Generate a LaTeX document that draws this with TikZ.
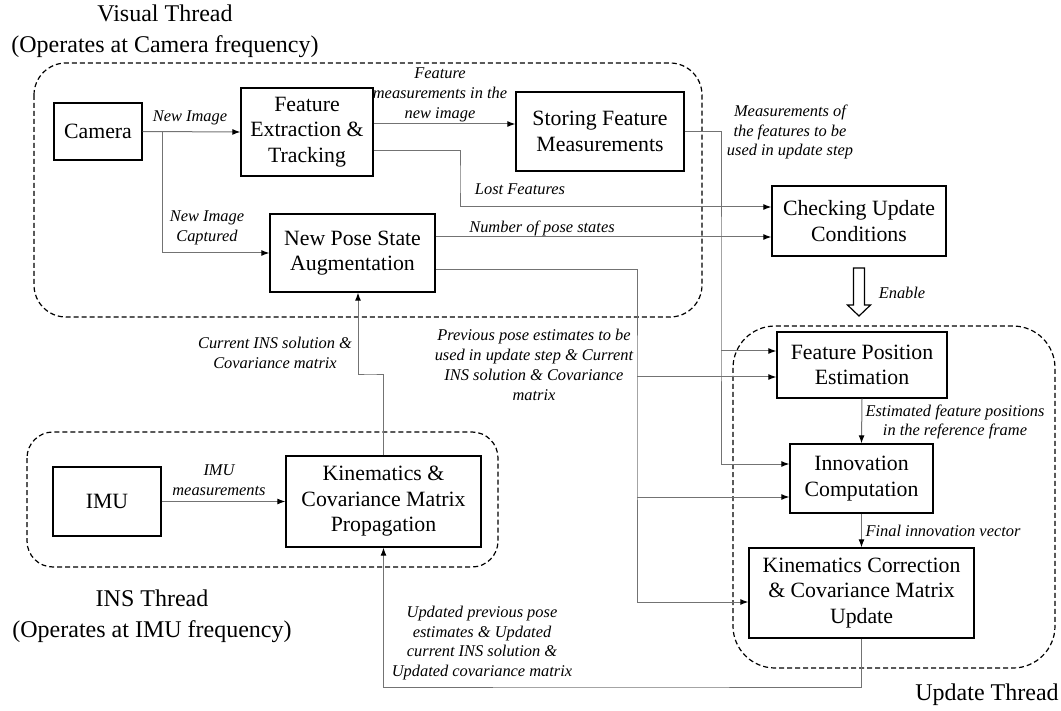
\documentclass[tikz,border=0pt]{standalone}
\usepackage{fontspec}
\setmainfont{Liberation Serif}
\usetikzlibrary{arrows.meta,calc}
\begin{document}
\begin{tikzpicture}[x=1pt,y=-1pt,
 box/.style={draw=black,line width=1.4pt,align=center,inner sep=0pt,font=\fontsize{21.8}{25.5}\selectfont},
 lbl/.style={align=center,inner sep=0pt,font=\fontsize{16.4}{19.8}\selectfont\itshape},
 conn/.style={draw=black!55,line width=1pt,-{Latex[length=8pt,width=6pt,color=black]}},
 wire/.style={draw=black!55,line width=1pt},
 region/.style={draw=black,line width=1.2pt,dash pattern=on 5pt off 3pt},
 titletext/.style={align=center,inner sep=0pt,font=\fontsize{24}{31}\selectfont}]
\useasboundingbox (0,0) rectangle (1061,711);

% thread regions
\draw[region,rounded corners=32pt] (34,63) rectangle (702,317);
\draw[region,rounded corners=26pt] (27,432) rectangle (498,567);
\draw[region,rounded corners=42pt] (733,326) rectangle (1055,668);

% titles
\node[titletext] (vt) at (165,31) {Visual Thread\\(Operates at Camera frequency)};
\node[titletext] (it) at (152,616) {INS Thread\\(Operates at IMU frequency)};
\node[titletext] (ut) at (987,695) {Update Thread};

% boxes
\node[box,minimum width=88pt,minimum height=57pt] (camera) at (98,131.5) {Camera};
\node[box,minimum width=132pt,minimum height=88pt] (featext) at (307,132) {Feature\\Extraction \&\\Tracking};
\node[box,minimum width=168pt,minimum height=79pt] (storing) at (600,131.5) {Storing Feature\\Measurements};
\node[box,minimum width=165pt,minimum height=78pt] (newpose) at (352.5,253) {New Pose State\\Augmentation};
\node[box,minimum width=174pt,minimum height=70pt] (checking) at (859,221) {Checking Update\\Conditions};
\node[box,minimum width=108pt,minimum height=69pt] (imu) at (107,501.5) {IMU};
\node[box,minimum width=195pt,minimum height=91pt] (kinprop) at (383.5,501.5) {Kinematics \&\\Covariance Matrix\\Propagation};
\node[box,minimum width=170pt,minimum height=66pt] (featpos) at (862,365) {Feature Position\\Estimation};
\node[box,minimum width=143pt,minimum height=69pt] (innov) at (861.5,478.5) {Innovation\\Computation};
\node[box,minimum width=225pt,minimum height=90pt] (kincorr) at (861.5,593) {Kinematics Correction\\\& Covariance Matrix\\Update};

% helper coordinates
\coordinate (j1) at (162,132);
\coordinate (lostx) at (460,180);
\coordinate (bus637) at (637,400);
\coordinate (bus721) at (721,300);
\coordinate (jog) at (370,375);
\coordinate (fb) at (600,687);
\coordinate (fpu) at ([yshift=14pt]featpos.west);
\coordinate (fpl) at ([yshift=-12pt]featpos.west);
\coordinate (inu) at ([yshift=14.5pt]innov.west);
\coordinate (inl) at ([yshift=-18.5pt]innov.west);

% connectors
\draw[conn] (camera.east) -- (featext.west);
\draw[conn] (j1) |- (newpose.west);
\draw[conn] ([yshift=8pt]featext.east) -- ([yshift=7.5pt]storing.west);
\draw[conn] ([yshift=-19pt]featext.east) -| (lostx) |- ([yshift=14pt]checking.west);
\draw[conn] ([yshift=16pt]newpose.east) -- ([yshift=-16pt]checking.west);
\draw[conn] ([yshift=-17pt]newpose.east) -| (bus637) |- ([yshift=-9pt]kincorr.west);
\draw[conn] (bus637 |- fpl) -- (fpl);
\draw[conn] (bus637 |- inl) -- (inl);
\draw[conn] ([yshift=-0.5pt]storing.east) -| (bus721) |- (inu);
\draw[conn] (bus721 |- fpu) -- (fpu);
\draw[conn] (kinprop.north) |- (jog) -| ([xshift=5.5pt]newpose.south);
\draw[conn] (imu.east) -- (kinprop.west);
\draw[conn] (featpos.south) -- (innov.north);
\draw[conn] (innov.south) -- (kincorr.north);
\draw[conn] (kincorr.south) |- (fb) -| (kinprop.south);

% enable arrow
\draw[line width=1.2pt,fill=white] (853.5,268) -- (864.5,268) -- (864.5,305) -- (870.5,305) -- (859,316) -- (847.5,305) -- (853.5,305) -- cycle;

% labels
\node[lbl] (l1) at (190,118) {New Image};
\node[lbl] (l2) at (207,228) {New Image\\Captured};
\node[lbl] (l3) at (440,95) {Feature\\measurements in the\\new image};
\node[lbl] (l4) at (520,189) {Lost Features};
\node[lbl] (l5) at (542,228) {Number of pose states};
\node[lbl] (l6) at (790,132) {Measurements of\\the features to be\\used in update step};
\node[lbl] (l7) at (534,365) {Previous pose estimates to be\\used in update step \& Current\\INS solution \& Covariance\\matrix};
\node[lbl] (l8) at (275,353) {Current INS solution \&\\Covariance matrix};
\node[lbl] (l9) at (219,480) {IMU\\measurements};
\node[lbl] (l10) at (955,422) {Estimated feature positions\\in the reference frame};
\node[lbl] (l11) at (943,531) {Final innovation vector};
\node[lbl] (l12) at (482,643) {Updated previous pose\\estimates \& Updated\\current INS solution \&\\Updated covariance matrix};
\node[lbl] (l13) at (902,293) {Enable};
\end{tikzpicture}
\end{document}
